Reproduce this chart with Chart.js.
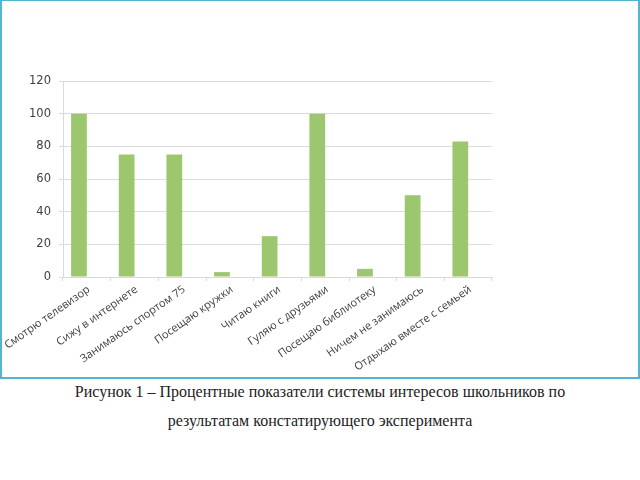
<!DOCTYPE html>
<html lang="ru">
<head>
  <meta charset="UTF-8">
  <title>Процентные показатели системы интересов</title>
  <script src="https://cdn.jsdelivr.net/npm/chart.js"></script>
  <style>
    body { margin: 0; background: #fff; width: 640px; height: 480px; overflow: hidden; }
    .frame { position: absolute; left: 0; top: 0; width: 636px; height: 376px; border: 2px solid #52b4cf; border-top-width: 1px; }
    .frame canvas { display: block; }
    .caption { position: absolute; left: 0; top: 377px; width: 640px; text-align: center;
      font-family: "Liberation Serif", "DejaVu Serif", serif; font-size: 16px; color: #222; line-height: 29px; }
  </style>
</head>
<body>
  <div class="frame"><canvas id="chart" width="636" height="376"></canvas></div>
  <div class="caption">Рисунок 1 – Процентные показатели системы интересов школьников по<br>результатам констатирующего эксперимента</div>

<script>
const categories = [
  'Смотрю телевизор', 'Сижу в интернете', 'Занимаюсь спортом 75', 'Посещаю кружки',
  'Читаю книги', 'Гуляю с друзьями', 'Посещаю библиотеку', 'Ничем не занимаюсь',
  'Отдыхаю вместе с семьей'
];
const values = [100, 75, 75, 3, 25, 100, 5, 50, 83];
const yTicks = [0, 20, 40, 60, 80, 100, 120];

const ctx = document.getElementById('chart').getContext('2d');
new Chart(ctx, {
  type: 'bar',
  data: {
    labels: categories,
    datasets: [
      { data: values, backgroundColor: '#9cc76f', borderWidth: 0 },
      // пустой второй ряд из исходной диаграммы (смещает столбцы влево)
      { data: [], backgroundColor: '#9cc76f', borderWidth: 0 }
    ]
  },
  options: {
    responsive: false,
    animation: false,
    datasets: { bar: { categoryPercentage: 0.66, barPercentage: 1 } },
    layout: { padding: { left: 0, top: 80, right: 146, bottom: 0 } },
    plugins: { legend: { display: false }, tooltip: { enabled: false } },
    scales: {
      x: {
        grid: { display: true, drawOnChartArea: false, drawTicks: true, tickLength: 4, color: '#d9d9d9' },
        border: { color: '#d9d9d9' },
        ticks: {
          minRotation: 35, maxRotation: 35, autoSkip: false,
          color: '#404040', padding: 2, labelOffset: 2,
          font: { family: '"Open Sans", "DejaVu Sans", sans-serif', size: 11 }
        },
        afterFit: s => { s.height = 100; s.paddingLeft = 0; s.paddingRight = 0; }
      },
      y: {
        min: 0, max: 120,
        afterBuildTicks: s => { s.ticks = yTicks.map(v => ({ value: v })); },
        grid: { color: '#dcdcdc', drawTicks: true, tickLength: 4 },
        border: { display: true, color: '#d9d9d9' },
        ticks: {
          color: '#404040', padding: 8,
          font: { family: '"DejaVu Sans", sans-serif', size: 11.5 }
        },
        afterFit: s => { s.width = 61; }
      }
    }
  }
});
</script>
</body>
</html>
